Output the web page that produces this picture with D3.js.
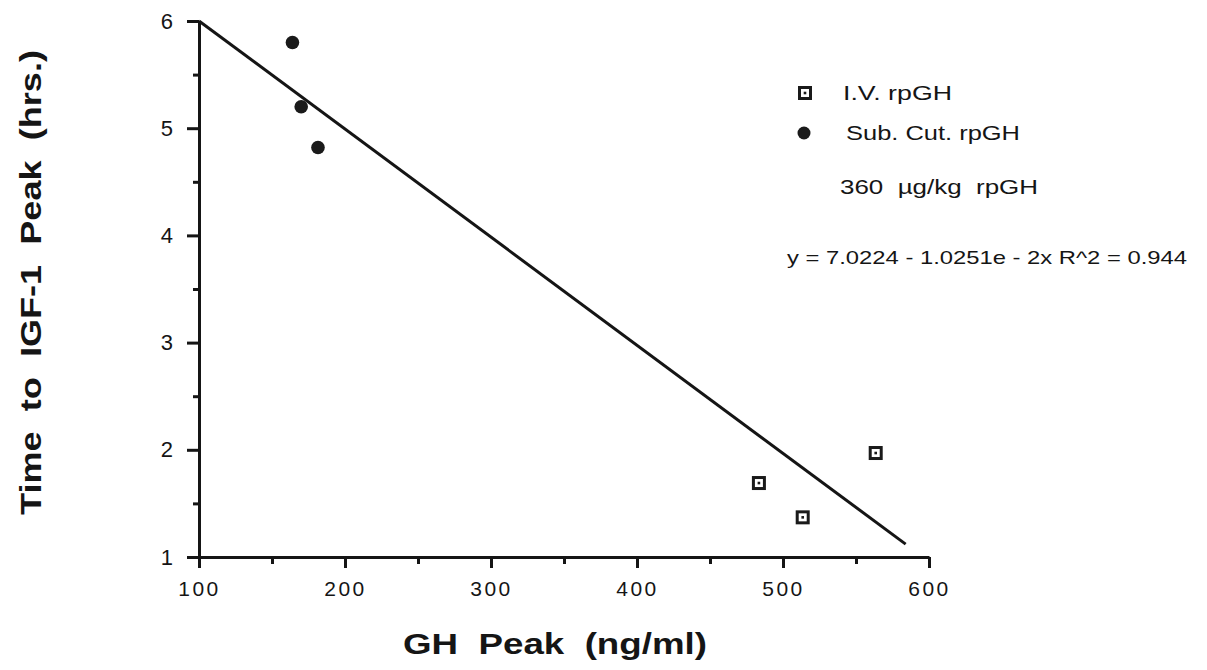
<!DOCTYPE html>
<html>
<head>
<meta charset="utf-8">
<script src="https://cdn.jsdelivr.net/npm/d3@7"></script>
<style>
  body { margin: 0; background: #fff; }
  svg { font-family: "Liberation Sans", Arial, sans-serif; }
</style>
</head>
<body>
<div id="chart"></div>
<script>
// data
var ivX = [483.5, 513.5, 563.5];
var ivY = [1.69, 1.37, 1.97];
var subX = [164, 170, 181.5];
var subY = [5.80, 5.20, 4.82];
var fitX = [100, 584];
var fitY = [6.0, 1.12];
var xTicks = [100, 200, 300, 400, 500, 600];
var xMinor = [150, 250, 350, 450, 550];
var yTicks = [1, 2, 3, 4, 5, 6];
var yMinor = [1.5, 2.5, 3.5, 4.5, 5.5];
var legendLabels = ["I.V. rpGH", "Sub. Cut. rpGH"];
var doseNote = "360  \u00b5g/kg  rpGH";
var fitNote = "y = 7.0224 - 1.0251e - 2x R^2 = 0.944";

var width = 1207;
var height = 670;
var ink = "#151515";

var svg = d3.select("#chart")
    .append("svg")
    .attr("width", width)
    .attr("height", height);

var xScale = d3.scaleLinear()
    .domain([100, 600])
    .range([199, 929]);
var yScale = d3.scaleLinear()
    .domain([1, 6])
    .range([557, 21]);

function thicken(g) {
    g.selectAll("line").attr("stroke", ink).attr("stroke-width", 3);
    g.select(".domain").attr("stroke", ink).attr("stroke-width", 3);
}

// minor ticks first so the main axis sits on top
svg.append("g")
    .attr("transform", "translate(0," + yScale(1) + ")")
    .call(d3.axisBottom(xScale).tickValues(xMinor).tickSize(7).tickSizeOuter(0).tickFormat(""))
    .call(function (g) { g.select(".domain").remove(); })
    .call(thicken);

svg.append("g")
    .attr("transform", "translate(" + xScale(100) + ",0)")
    .call(d3.axisLeft(yScale).tickValues(yMinor).tickSize(6).tickSizeOuter(0).tickFormat(""))
    .call(function (g) { g.select(".domain").remove(); })
    .call(thicken);

var xAxis = svg.append("g")
    .attr("transform", "translate(0," + yScale(1) + ")")
    .call(d3.axisBottom(xScale).tickValues(xTicks).tickSize(11).tickSizeOuter(0).tickPadding(13))
    .call(thicken);
xAxis.selectAll("text")
    .attr("font-size", 21)
    .attr("letter-spacing", "2.5px")
    .attr("fill", ink)
    .style("font-family", "Liberation Sans, Arial, sans-serif");

var yAxis = svg.append("g")
    .attr("transform", "translate(" + xScale(100) + ",0)")
    .call(d3.axisLeft(yScale).tickValues(yTicks).tickSize(12).tickSizeOuter(0).tickPadding(14)
        .tickFormat(d3.format("d")))
    .call(thicken);
yAxis.selectAll("text")
    .attr("font-size", 22)
    .attr("fill", ink)
    .style("font-family", "Liberation Sans, Arial, sans-serif");

// regression line
var line = d3.line()
    .x(function (d) { return xScale(d[0]); })
    .y(function (d) { return yScale(d[1]); });

svg.append("path")
    .datum(d3.zip(fitX, fitY))
    .attr("d", line)
    .attr("fill", "none")
    .attr("stroke", ink)
    .attr("stroke-width", 3);

function drawSquare(g, x, y) {
    g.append("rect")
        .attr("x", x - 5.5)
        .attr("y", y - 5.5)
        .attr("width", 11)
        .attr("height", 11)
        .attr("fill", "#fff")
        .attr("stroke", "#1a1a1a")
        .attr("stroke-width", 3);
    g.append("rect")
        .attr("x", x - 1.3)
        .attr("y", y - 1.3)
        .attr("width", 2.6)
        .attr("height", 2.6)
        .attr("fill", "#1a1a1a");
}

var ivG = svg.append("g");
d3.zip(ivX, ivY).forEach(function (d) {
    drawSquare(ivG, xScale(d[0]), yScale(d[1]));
});

svg.append("g").selectAll("circle")
    .data(d3.zip(subX, subY))
    .enter()
    .append("circle")
    .attr("cx", function (d) { return xScale(d[0]); })
    .attr("cy", function (d) { return yScale(d[1]); })
    .attr("r", 6.8)
    .attr("fill", "#1a1a1a");

// legend
var legend = svg.append("g");
drawSquare(legend, 805, 93);
legend.append("circle")
    .attr("cx", 804)
    .attr("cy", 133)
    .attr("r", 6.5)
    .attr("fill", "#1a1a1a");

var labWidths = [109, 174];
legend.selectAll("text.lab")
    .data(legendLabels)
    .enter()
    .append("text")
    .attr("class", "lab")
    .attr("x", function (d, i) { return i == 0 ? 843 : 846; })
    .attr("y", function (d, i) { return 93 + i * 40; })
    .attr("dy", "0.35em")
    .attr("font-size", 20)
    .attr("fill", ink)
    .attr("textLength", function (d, i) { return labWidths[i]; })
    .attr("lengthAdjust", "spacingAndGlyphs")
    .text(function (d) { return d; });

legend.append("text")
    .attr("x", 840)
    .attr("y", 187)
    .attr("dy", "0.35em")
    .attr("font-size", 20)
    .attr("fill", ink)
    .attr("textLength", 198)
    .attr("lengthAdjust", "spacingAndGlyphs")
    .style("white-space", "pre")
    .text(doseNote);

legend.append("text")
    .attr("x", 787)
    .attr("y", 257)
    .attr("dy", "0.35em")
    .attr("font-size", 19)
    .attr("fill", ink)
    .attr("textLength", 400)
    .attr("lengthAdjust", "spacingAndGlyphs")
    .text(fitNote);

// axis titles
svg.append("text")
    .attr("x", 403)
    .attr("y", 654)
    .attr("font-size", 29)
    .attr("font-weight", "bold")
    .attr("fill", ink)
    .attr("textLength", 304)
    .attr("lengthAdjust", "spacingAndGlyphs")
    .style("white-space", "pre")
    .text("GH  Peak  (ng/ml)");

svg.append("text")
    .attr("transform", "translate(41,515) rotate(-90)")
    .attr("font-size", 29)
    .attr("font-weight", "bold")
    .attr("fill", ink)
    .attr("textLength", 465)
    .attr("lengthAdjust", "spacingAndGlyphs")
    .style("white-space", "pre")
    .text("Time  to  IGF-1  Peak  (hrs.)");
</script>
</body>
</html>
